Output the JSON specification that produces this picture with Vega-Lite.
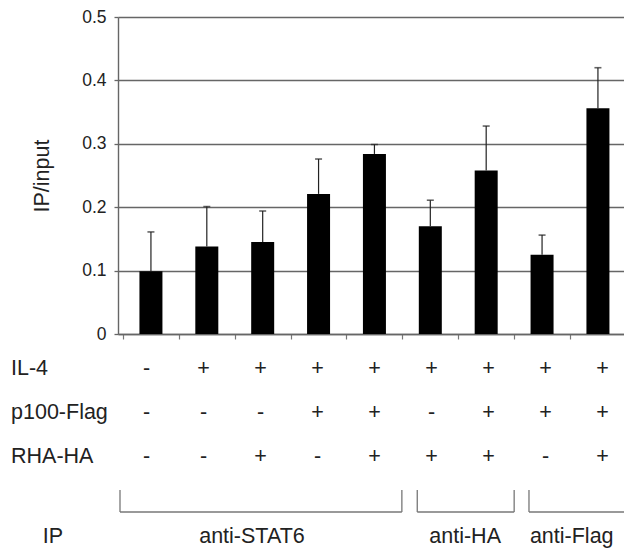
{
  "$schema": "https://vega.github.io/schema/vega-lite/v6.json",
  "padding": {"left": 11, "top": 8, "right": 0, "bottom": 0},
  "spacing": 0,
  "background": "white",
  "config": {
    "font": "Liberation Sans",
    "view": {"stroke": null}
  },
  "datasets": {
    "bars": [
      {"pos": 0.5, "value": 0.099, "upper": 0.161},
      {"pos": 1.5, "value": 0.138, "upper": 0.201},
      {"pos": 2.5, "value": 0.145, "upper": 0.194},
      {"pos": 3.5, "value": 0.221, "upper": 0.276},
      {"pos": 4.5, "value": 0.284, "upper": 0.299},
      {"pos": 5.5, "value": 0.170, "upper": 0.211},
      {"pos": 6.5, "value": 0.258, "upper": 0.328},
      {"pos": 7.5, "value": 0.125, "upper": 0.156},
      {"pos": 8.5, "value": 0.356, "upper": 0.420}
    ],
    "signs": [
      {"pos": 0.5, "row": 1, "sign": "-"}, {"pos": 1.5, "row": 1, "sign": "+"}, {"pos": 2.5, "row": 1, "sign": "+"},
      {"pos": 3.5, "row": 1, "sign": "+"}, {"pos": 4.5, "row": 1, "sign": "+"}, {"pos": 5.5, "row": 1, "sign": "+"},
      {"pos": 6.5, "row": 1, "sign": "+"}, {"pos": 7.5, "row": 1, "sign": "+"}, {"pos": 8.5, "row": 1, "sign": "+"},
      {"pos": 0.5, "row": 2, "sign": "-"}, {"pos": 1.5, "row": 2, "sign": "-"}, {"pos": 2.5, "row": 2, "sign": "-"},
      {"pos": 3.5, "row": 2, "sign": "+"}, {"pos": 4.5, "row": 2, "sign": "+"}, {"pos": 5.5, "row": 2, "sign": "-"},
      {"pos": 6.5, "row": 2, "sign": "+"}, {"pos": 7.5, "row": 2, "sign": "+"}, {"pos": 8.5, "row": 2, "sign": "+"},
      {"pos": 0.5, "row": 3, "sign": "-"}, {"pos": 1.5, "row": 3, "sign": "-"}, {"pos": 2.5, "row": 3, "sign": "+"},
      {"pos": 3.5, "row": 3, "sign": "-"}, {"pos": 4.5, "row": 3, "sign": "+"}, {"pos": 5.5, "row": 3, "sign": "+"},
      {"pos": 6.5, "row": 3, "sign": "+"}, {"pos": 7.5, "row": 3, "sign": "-"}, {"pos": 8.5, "row": 3, "sign": "+"}
    ],
    "rowlabels": [
      {"pos": -1.877, "row": 1, "label": "IL-4"},
      {"pos": -1.877, "row": 2, "label": "p100-Flag"},
      {"pos": -1.877, "row": 3, "label": "RHA-HA"}
    ],
    "iplabels": [
      {"pos": -1.14, "row": 4.82, "label": "IP"},
      {"pos": 2.35, "row": 4.82, "label": "anti-STAT6"},
      {"pos": 6.09, "row": 4.82, "label": "anti-HA"},
      {"pos": 7.96, "row": 4.82, "label": "anti-Flag"}
    ],
    "brackets": [
      {"x": 0.035, "x2": 4.98, "y": 4.25, "y2": 4.25},
      {"x": 0.035, "x2": 0.035, "y": 3.75, "y2": 4.25},
      {"x": 4.98, "x2": 4.98, "y": 3.75, "y2": 4.25},
      {"x": 5.25, "x2": 6.95, "y": 4.25, "y2": 4.25},
      {"x": 5.25, "x2": 5.25, "y": 3.75, "y2": 4.25},
      {"x": 6.95, "x2": 6.95, "y": 3.75, "y2": 4.25},
      {"x": 7.21, "x2": 8.877, "y": 4.25, "y2": 4.25},
      {"x": 7.21, "x2": 7.21, "y": 3.75, "y2": 4.25}
    ]
  },
  "vconcat": [
    {
      "width": 506,
      "height": 317,
      "data": {"name": "bars"},
      "encoding": {
        "x": {
          "field": "pos", "type": "quantitative",
          "scale": {"domain": [0, 8.877], "nice": false, "zero": false},
          "axis": {
            "values": [0, 1, 2, 3, 4, 5, 6, 7, 8],
            "labels": false, "grid": false, "title": null,
            "tickSize": 5, "tickColor": "#777", "domainColor": "#666", "domainWidth": 1.4, "tickWidth": 1.2
          }
        }
      },
      "layer": [
        {
          "mark": {"type": "bar", "size": 23, "color": "#000"},
          "encoding": {
            "y": {
              "field": "value", "type": "quantitative",
              "scale": {"domain": [0, 0.5], "nice": false},
              "axis": {
                "values": [0, 0.1, 0.2, 0.3, 0.4, 0.5],
                "labelExpr": "datum.value == 0 ? '0' : format(datum.value, '.1f')",
                "title": "IP/input",
                "titleFont": "Liberation Sans", "titleFontSize": 21.5, "titleFontWeight": "normal", "titleColor": "#222",
                "titlePadding": 28,
                "labelFontSize": 17.5, "labelColor": "#222", "labelPadding": 8,
                "tickSize": 4, "tickColor": "#666", "tickWidth": 1.3, "domainColor": "#666", "domainWidth": 1.4,
                "grid": true, "gridColor": "#666", "gridWidth": 1.4
              }
            }
          }
        },
        {
          "mark": {"type": "rule", "color": "#222", "strokeWidth": 1.2},
          "encoding": {
            "y": {"field": "value", "type": "quantitative"},
            "y2": {"field": "upper"}
          }
        },
        {
          "mark": {"type": "tick", "orient": "horizontal", "size": 7, "thickness": 1.6, "color": "#222"},
          "encoding": {
            "y": {"field": "upper", "type": "quantitative"}
          }
        }
      ]
    },
    {
      "width": 506,
      "height": 202,
      "encoding": {
        "x": {"type": "quantitative", "scale": {"domain": [0, 8.877], "nice": false, "zero": false}, "axis": null},
        "y": {"type": "quantitative", "scale": {"domain": [0.41, 5.0], "nice": false, "zero": false, "reverse": true}, "axis": null}
      },
      "layer": [
        {
          "data": {"name": "signs"},
          "mark": {"type": "text", "fontSize": 21.5, "color": "#222", "baseline": "middle", "align": "center"},
          "encoding": {
            "x": {"field": "pos", "type": "quantitative"},
            "y": {"field": "row", "type": "quantitative"},
            "text": {"field": "sign"}
          }
        },
        {
          "data": {"name": "rowlabels"},
          "mark": {"type": "text", "fontSize": 21.5, "color": "#222", "baseline": "middle", "align": "left"},
          "encoding": {
            "x": {"field": "pos", "type": "quantitative"},
            "y": {"field": "row", "type": "quantitative"},
            "text": {"field": "label"}
          }
        },
        {
          "data": {"name": "iplabels"},
          "mark": {"type": "text", "fontSize": 21.5, "color": "#222", "baseline": "middle", "align": "center"},
          "encoding": {
            "x": {"field": "pos", "type": "quantitative"},
            "y": {"field": "row", "type": "quantitative"},
            "text": {"field": "label"}
          }
        },
        {
          "data": {"name": "brackets"},
          "mark": {"type": "rule", "color": "#777", "strokeWidth": 1.3},
          "encoding": {
            "x": {"field": "x", "type": "quantitative"},
            "x2": {"field": "x2"},
            "y": {"field": "y", "type": "quantitative"},
            "y2": {"field": "y2"}
          }
        }
      ]
    }
  ]
}
